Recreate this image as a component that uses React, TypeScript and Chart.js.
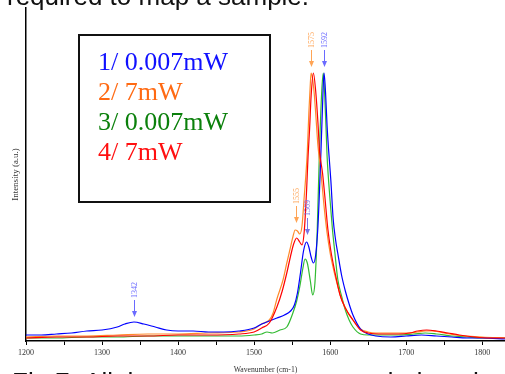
import React, { useEffect, useRef } from "react";
import { Chart, registerables } from "chart.js";

Chart.register(...registerables);

// ---- data (intensity in arbitrary units) ----
const seriesLabels = ["1/ 0.007mW", "2/ 7mW", "3/ 0.007mW", "4/ 7mW"];

const blueWn = [1200,1220,1240,1260,1280,1300,1320,1330,1342,1355,1370,1385,1400,1420,1440,1460,1480,1500,1510,1520,1530,1540,1548,1553,1557,1561,1565,1569,1572,1575,1578,1581,1584,1586,1588,1590,1592,1594,1596,1598,1601,1604,1607,1610,1615,1620,1625,1630,1640,1650,1660,1680,1700,1720,1740,1760,1780,1800,1830];
const blueI = [6,6,7,8,10,11,14,17,19,17,14,11,10,10,9,9,10,13,17,20,23,26,30,36,48,68,90,99,94,84,78,86,115,150,191,235,268,248,215,191,160,122,102,88,66,50,37,26,12,7,5,4,5,6,5,4,3,3,2];

const orangeWn = [1200,1240,1280,1320,1360,1400,1440,1480,1500,1510,1520,1525,1530,1538,1543,1547,1551,1554,1557,1560,1563,1566,1568,1570,1572,1574,1575,1577,1579,1581,1584,1588,1592,1596,1600,1605,1610,1615,1620,1625,1630,1640,1650,1660,1680,1700,1715,1725,1735,1750,1765,1780,1800,1830];
const orangeI = [4,5,5,6,7,7,8,9,12,17,21,28,42,61,78,91,104,111,110,107,115,145,165,190,228,258,268,262,248,228,195,168,135,108,88,70,55,42,33,26,21,12,9,8,8,8,9,10,10,8,6,5,4,3];

const greenWn = [1200,1240,1280,1320,1360,1400,1440,1480,1500,1510,1517,1524,1534,1543,1551,1556,1560,1564,1567,1570,1574,1577,1580,1583,1586,1589,1591,1594,1596,1600,1603,1606,1610,1615,1620,1625,1630,1640,1650,1670,1690,1710,1725,1740,1760,1780,1800,1830];
const greenI = [3,3,4,4,5,5,5,5,6,7,9,8,11,14,28,40,54,72,82,78,60,46,58,110,191,250,268,225,185,140,112,90,62,45,31,21,14,7,6,6,6,7,8,7,5,4,3,3];

const redWn = [1200,1240,1280,1320,1360,1400,1440,1480,1500,1510,1520,1530,1537,1543,1548,1552,1556,1560,1563,1566,1569,1571,1573,1575,1578,1581,1584,1586,1590,1593,1597,1601,1606,1613,1620,1630,1640,1650,1670,1690,1705,1715,1727,1740,1755,1770,1790,1810,1830];
const redI = [3,4,4,5,5,6,6,7,9,13,18,34,50,68,85,97,103,99,96,110,150,185,212,245,268,250,218,191,168,145,112,90,70,46,33,21,11,8,7,7,8,10,11,10,8,6,4,3,3];

// peak annotations
const annotWn = [1342, 1555, 1569, 1575, 1592];
const annotText = ["1342", "1555", "1569", "1575", "1592"];
const annotTip = [24, 118, 106, 274, 274];
const annotColors = ["#6a6aff", "#ffa455", "#7a72e6", "#ffa455", "#6a6aff"];

const xTicksMin = 1200;
const xTicksMax = 1830;
const yMax = 333;

const topCaption = "required to map a sample.";
const bottomCaption = "Fig.7  All the spectra were recorded on the same spot of the";
const xTitle = "Wavenumber (cm-1)";
const yTitle = "Intensity (a.u.)";

const lineColors = ["#0000ff", "#ff8a2a", "#33bb33", "#ff0000"];
const legendColors = ["#1010ff", "#ff6a13", "#0b800b", "#ff1010"];

const toPts = (wn: number[], v: number[]) => wn.map((w, i) => ({ x: w, y: v[i] }));

const decoPlugin = {
  id: "deco",
  beforeDraw(chart: any) {
    const ctx = chart.ctx;
    ctx.save();
    ctx.fillStyle = "#fff";
    ctx.fillRect(0, 0, chart.width, chart.height);
    ctx.fillStyle = "#111";
    ctx.font = "26px 'Liberation Sans', Arial, sans-serif";
    ctx.textAlign = "left";
    ctx.textBaseline = "alphabetic";
    ctx.fillText(topCaption, 7, 5);
    ctx.fillText(bottomCaption, 12, 390.5);
    ctx.fillStyle = "#fff";
    ctx.fillRect(200, 362, 134, 12);
    ctx.restore();
  },
  afterDraw(chart: any) {
    const ctx = chart.ctx;
    const xs = chart.scales.x;
    const ys = chart.scales.y;
    ctx.save();
    // legend box
    ctx.fillStyle = "#fff";
    ctx.fillRect(79, 35, 191, 167);
    ctx.strokeStyle = "#111";
    ctx.lineWidth = 2;
    ctx.strokeRect(79, 35, 191, 167);
    ctx.font = "26px 'Liberation Serif', 'Times New Roman', serif";
    ctx.textAlign = "left";
    ctx.textBaseline = "alphabetic";
    seriesLabels.forEach((t, i) => {
      ctx.fillStyle = legendColors[i];
      ctx.fillText(t, 98, 70 + 30 * i);
    });
    // annotations
    annotWn.forEach((w, i) => {
      const x = Math.round(xs.getPixelForValue(w)) + 0.5;
      const tip = ys.getPixelForValue(annotTip[i]);
      ctx.strokeStyle = annotColors[i];
      ctx.fillStyle = annotColors[i];
      ctx.lineWidth = 1;
      ctx.beginPath();
      ctx.moveTo(x, tip - 17);
      ctx.lineTo(x, tip - 5);
      ctx.stroke();
      ctx.beginPath();
      ctx.moveTo(x - 2.5, tip - 6);
      ctx.lineTo(x + 2.5, tip - 6);
      ctx.lineTo(x, tip);
      ctx.closePath();
      ctx.fill();
      ctx.save();
      ctx.translate(x, tip - 19);
      ctx.rotate(-Math.PI / 2);
      ctx.font = "8px 'Liberation Serif', serif";
      ctx.textAlign = "left";
      ctx.textBaseline = "middle";
      ctx.fillText(annotText[i], 0, 0);
      ctx.restore();
    });
    ctx.restore();
  },
};

export default function App() {
  const ref = useRef<HTMLCanvasElement | null>(null);
  useEffect(() => {
    if (!ref.current) return;
    const series = [
      { wn: blueWn, v: blueI, order: 2 },
      { wn: orangeWn, v: orangeI, order: 3 },
      { wn: greenWn, v: greenI, order: 4 },
      { wn: redWn, v: redI, order: 1 },
    ];
    const chart = new Chart(ref.current, {
      type: "line",
      data: {
        datasets: series.map((s, i) => ({
          label: seriesLabels[i],
          data: toPts(s.wn, s.v),
          borderColor: lineColors[i],
          backgroundColor: lineColors[i],
          borderWidth: 1.2,
          pointRadius: 0,
          fill: false,
          cubicInterpolationMode: "monotone" as const,
          order: s.order,
        })),
      },
      options: {
        animation: false,
        responsive: false,
        devicePixelRatio: 1,
        layout: { padding: { top: 8, left: 0, right: 0, bottom: 0 } },
        plugins: { legend: { display: false }, tooltip: { enabled: false }, title: { display: false } },
        scales: {
          x: {
            type: "linear",
            min: xTicksMin,
            max: xTicksMax,
            afterFit: (s: any) => { s.height = 33; },
            ticks: {
              stepSize: 50,
              includeBounds: false,
              autoSkip: false,
              maxRotation: 0,
              padding: 3,
              color: "#333",
              font: { family: "'Liberation Serif', serif", size: 8 },
              callback: (v: any) => (Number(v) % 100 === 0 ? String(v) : ""),
            },
            grid: { display: true, drawOnChartArea: false, drawTicks: true, tickLength: 4, color: "#000", lineWidth: 1 },
            border: { display: true, color: "#000", width: 1.5 },
            title: {
              display: true,
              text: xTitle,
              color: "#333",
              font: { family: "'Liberation Serif', serif", size: 7.7 },
              padding: { top: 0, bottom: -1 },
            },
          },
          y: {
            type: "linear",
            min: 0,
            max: yMax,
            afterFit: (s: any) => { s.width = 26; },
            ticks: { display: false },
            grid: { display: false },
            border: { display: true, color: "#000", width: 1.5 },
            title: {
              display: true,
              text: yTitle,
              color: "#333",
              font: { family: "'Liberation Serif', serif", size: 9 },
              padding: { top: 10, bottom: 0 },
            },
          },
        },
      },
      plugins: [decoPlugin],
    } as any);
    return () => chart.destroy();
  }, []);
  return (
    <div style={{ position: "fixed", left: 0, top: 0, width: 505, height: 374 }}>
      <canvas ref={ref} width={505} height={374} style={{ display: "block" }} />
    </div>
  );
}
